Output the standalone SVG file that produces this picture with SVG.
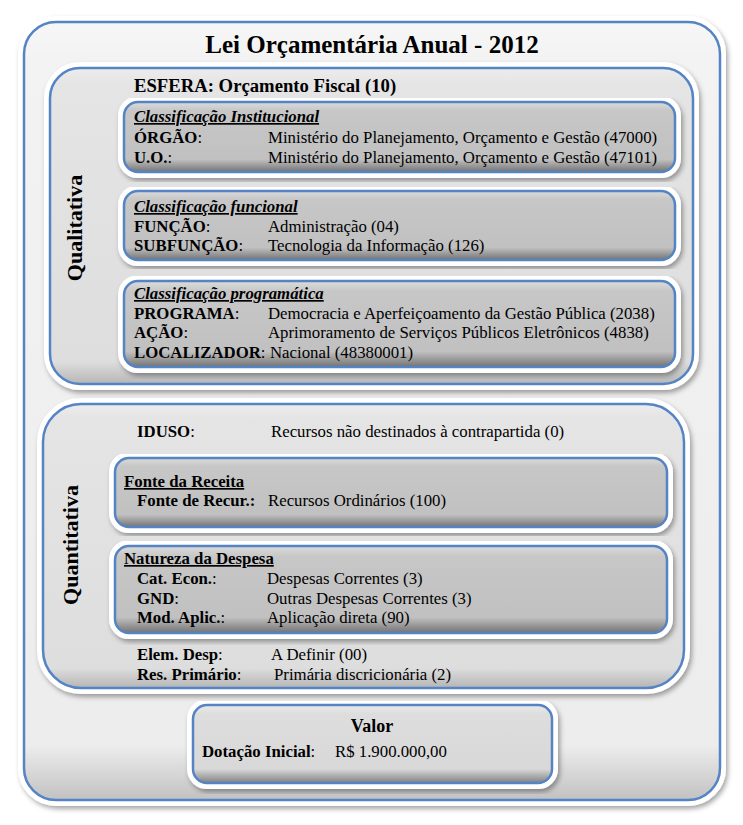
<svg xmlns="http://www.w3.org/2000/svg" width="743" height="825" viewBox="0 0 743 825">
<defs>
<style>
.t{font-family:'Liberation Serif','Times New Roman',Tinos,'DejaVu Serif',serif;fill:#000;font-size:16.8px}
.b{font-weight:bold}
.n{font-weight:normal}
.hd{font-weight:bold;font-style:italic;text-decoration:underline}
.hd2{font-weight:bold;text-decoration:underline}
.frame{fill:#fff;stroke:#fff;stroke-width:12;filter:url(#sh)}
.edge{fill:none;stroke:#5584c4;stroke-width:2.5}
.fo{fill:url(#gOuter)}
.fm{fill:url(#gMid)}
.fi{fill:url(#gIn)}
.fv{fill:url(#gVal)}
.bv{fill:url(#bev)}
.bvb{fill:url(#bevBig)}
</style>
<filter id="sh" x="-5%" y="-5%" width="112%" height="118%">
<feDropShadow dx="2" dy="3" stdDeviation="2.5" flood-color="#000" flood-opacity="0.35"/>
</filter>
<linearGradient id="gOuter" x1="0" y1="0" x2="0" y2="1"><stop offset="0" stop-color="#f3f3f3"/><stop offset="1" stop-color="#ececec"/></linearGradient>
<linearGradient id="gMid" x1="0" y1="0" x2="0" y2="1"><stop offset="0" stop-color="#e5e5e5"/><stop offset="1" stop-color="#dddddd"/></linearGradient>
<linearGradient id="gIn" x1="0" y1="0" x2="0" y2="1"><stop offset="0" stop-color="#c8c8c8"/><stop offset="1" stop-color="#bfbfbf"/></linearGradient>
<linearGradient id="gVal" x1="0" y1="0" x2="0" y2="1"><stop offset="0" stop-color="#dfdede"/><stop offset="1" stop-color="#d8d7d7"/></linearGradient>
<linearGradient id="bev" x1="0" y1="0" x2="0" y2="1"><stop offset="0" stop-color="#fff" stop-opacity="0.35"/><stop offset="0.12" stop-color="#fff" stop-opacity="0"/><stop offset="0.82" stop-color="#000" stop-opacity="0"/><stop offset="1" stop-color="#000" stop-opacity="0.4"/></linearGradient>
<linearGradient id="bevBig" x1="0" y1="0" x2="0" y2="1"><stop offset="0" stop-color="#fff" stop-opacity="0.3"/><stop offset="0.05" stop-color="#fff" stop-opacity="0"/><stop offset="0.93" stop-color="#000" stop-opacity="0"/><stop offset="1" stop-color="#000" stop-opacity="0.18"/></linearGradient>
</defs>

<g id="lei-orcamentaria">
<rect class="frame" x="24" y="22" width="696" height="778" rx="32"/>
<rect class="fo" x="24" y="22" width="696" height="778" rx="32"/>
<rect class="bvb" x="24" y="22" width="696" height="778" rx="32"/>
<rect class="edge" x="24" y="22" width="696" height="778" rx="32"/>
<text class="t b" x="372" y="53" text-anchor="middle" style="font-size:25px">Lei Orçamentária Anual - 2012</text>
</g>

<g id="qualitativa">
<rect class="frame" x="50" y="68" width="643" height="316" rx="30"/>
<rect class="fm" x="50" y="68" width="643" height="316" rx="30"/>
<rect class="bvb" x="50" y="68" width="643" height="316" rx="30"/>
<rect class="edge" x="50" y="68" width="643" height="316" rx="30"/>
<text class="t b" transform="translate(82,228) rotate(-90)" text-anchor="middle" style="font-size:22px">Qualitativa</text>
<text class="t b" x="134" y="92" style="font-size:18.7px">ESFERA: Orçamento Fiscal (10)</text>
</g>

<g id="classificacao-institucional">
<rect class="frame" x="124" y="102" width="551" height="70" rx="14"/>
<rect class="fi" x="124" y="102" width="551" height="70" rx="14"/>
<rect class="bv" x="124" y="102" width="551" height="70" rx="14"/>
<rect class="edge" x="124" y="102" width="551" height="70" rx="14"/>
<text class="t hd" x="134" y="122">Classificação Institucional</text>
<text class="t b" x="134" y="143">ÓRGÃO<tspan class="n">:</tspan></text>
<text class="t" x="268" y="143">Ministério do Planejamento, Orçamento e Gestão (47000)</text>
<text class="t b" x="134" y="163">U.O.<tspan class="n">:</tspan></text>
<text class="t" x="268" y="163">Ministério do Planejamento, Orçamento e Gestão (47101)</text>
</g>

<g id="classificacao-funcional">
<rect class="frame" x="124" y="191" width="551" height="69" rx="14"/>
<rect class="fi" x="124" y="191" width="551" height="69" rx="14"/>
<rect class="bv" x="124" y="191" width="551" height="69" rx="14"/>
<rect class="edge" x="124" y="191" width="551" height="69" rx="14"/>
<text class="t hd" x="134" y="212">Classificação funcional</text>
<text class="t b" x="134" y="232">FUNÇÃO<tspan class="n">:</tspan></text>
<text class="t" x="268" y="232">Administração (04)</text>
<text class="t b" x="134" y="251">SUBFUNÇÃO<tspan class="n">:</tspan></text>
<text class="t" x="268" y="251">Tecnologia da Informação (126)</text>
</g>

<g id="classificacao-programatica">
<rect class="frame" x="124" y="281" width="551" height="86" rx="14"/>
<rect class="fi" x="124" y="281" width="551" height="86" rx="14"/>
<rect class="bv" x="124" y="281" width="551" height="86" rx="14"/>
<rect class="edge" x="124" y="281" width="551" height="86" rx="14"/>
<text class="t hd" x="134" y="299">Classificação programática</text>
<text class="t b" x="134" y="319">PROGRAMA<tspan class="n">:</tspan></text>
<text class="t" x="268" y="319">Democracia e Aperfeiçoamento da Gestão Pública (2038)</text>
<text class="t b" x="134" y="338">AÇÃO<tspan class="n">:</tspan></text>
<text class="t" x="268" y="338">Aprimoramento de Serviços Públicos Eletrônicos (4838)</text>
<text class="t b" x="134" y="358">LOCALIZADOR<tspan class="n">:</tspan></text>
<text class="t" x="270" y="358">Nacional (48380001)</text>
</g>

<g id="quantitativa">
<rect class="frame" x="43" y="404" width="641" height="284" rx="38"/>
<rect class="fm" x="43" y="404" width="641" height="284" rx="38"/>
<rect class="bvb" x="43" y="404" width="641" height="284" rx="38"/>
<rect class="edge" x="43" y="404" width="641" height="284" rx="38"/>
<text class="t b" transform="translate(78,545) rotate(-90)" text-anchor="middle" style="font-size:22px">Quantitativa</text>
<text class="t b" x="137" y="437">IDUSO<tspan class="n">:</tspan></text>
<text class="t" x="271" y="437">Recursos não destinados à contrapartida (0)</text>
<text class="t b" x="137" y="660">Elem. Desp<tspan class="n">:</tspan></text>
<text class="t" x="271" y="660">A Definir (00)</text>
<text class="t b" x="137" y="680">Res. Primário<tspan class="n">:</tspan></text>
<text class="t" x="274" y="680">Primária discricionária (2)</text>
</g>

<g id="fonte-da-receita">
<rect class="frame" x="115" y="458" width="552" height="69" rx="14"/>
<rect class="fi" x="115" y="458" width="552" height="69" rx="14"/>
<rect class="bv" x="115" y="458" width="552" height="69" rx="14"/>
<rect class="edge" x="115" y="458" width="552" height="69" rx="14"/>
<text class="t hd2" x="124" y="487">Fonte da Receita</text>
<text class="t b" x="137" y="506">Fonte de Recur.:</text>
<text class="t" x="268" y="506">Recursos Ordinários (100)</text>
</g>

<g id="natureza-da-despesa">
<rect class="frame" x="115" y="546" width="552" height="87" rx="14"/>
<rect class="fi" x="115" y="546" width="552" height="87" rx="14"/>
<rect class="bv" x="115" y="546" width="552" height="87" rx="14"/>
<rect class="edge" x="115" y="546" width="552" height="87" rx="14"/>
<text class="t hd2" x="124" y="564">Natureza da Despesa</text>
<text class="t b" x="137" y="584">Cat. Econ.<tspan class="n">:</tspan></text>
<text class="t" x="267" y="584">Despesas Correntes (3)</text>
<text class="t b" x="137" y="604">GND<tspan class="n">:</tspan></text>
<text class="t" x="267" y="604">Outras Despesas Correntes (3)</text>
<text class="t b" x="137" y="623">Mod. Aplic.<tspan class="n">:</tspan></text>
<text class="t" x="267" y="623">Aplicação direta (90)</text>
</g>

<g id="valor">
<rect class="frame" x="193" y="705" width="359" height="78" rx="14"/>
<rect class="fv" x="193" y="705" width="359" height="78" rx="14"/>
<rect class="bv" x="193" y="705" width="359" height="78" rx="14"/>
<rect class="edge" x="193" y="705" width="359" height="78" rx="14"/>
<text class="t b" x="372" y="732" text-anchor="middle" style="font-size:18px">Valor</text>
<text class="t b" x="202" y="757">Dotação Inicial<tspan class="n">:</tspan></text>
<text class="t" x="335" y="757">R$ 1.900.000,00</text>
</g>

<g id="connectors"/>
</svg>
